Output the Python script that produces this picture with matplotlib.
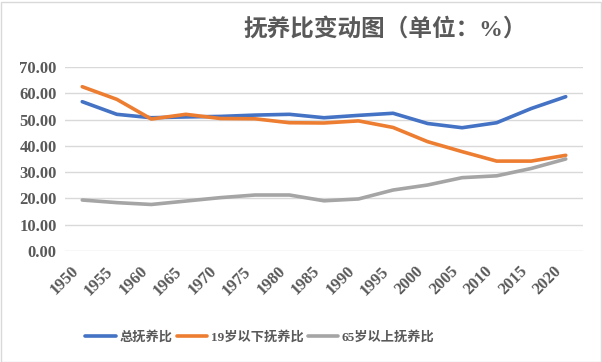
import matplotlib
matplotlib.use('Agg')
import matplotlib.pyplot as plt
import matplotlib.transforms as mtransforms
from matplotlib.patches import Rectangle

plt.rcParams['font.family'] = ['Liberation Serif', 'Noto Sans CJK SC', 'DejaVu Sans']

years = [1950, 1955, 1960, 1965, 1970, 1975, 1980, 1985,
         1990, 1995, 2000, 2005, 2010, 2015, 2020]
total = [56.8, 52.0, 50.7, 51.0, 51.2, 51.7, 52.0, 50.7,
         51.6, 52.4, 48.5, 46.9, 48.8, 54.2, 58.7]
young = [62.5, 57.7, 50.2, 52.0, 50.4, 50.3, 48.8, 48.7,
         49.5, 47.0, 41.6, 37.8, 34.2, 34.2, 36.4]
old = [19.4, 18.4, 17.7, 19.0, 20.3, 21.3, 21.3, 19.1,
       19.8, 23.2, 25.1, 27.9, 28.6, 31.4, 35.0]
names = ['总抚养比', '19岁以下抚养比', '65岁以上抚养比']
colors = ['#4472C4', '#ED7D31', '#A5A5A5']

fig = plt.figure(figsize=(6.02, 3.62), dpi=100)
ax = fig.add_axes([65/602, 1 - 251/362, (583-65)/602, (251-67)/362])

x = list(range(len(years)))
for vals, name, c in zip([total, young, old], names, colors):
    ax.plot(x, vals, color=c, lw=2.6, label=name, solid_capstyle='round')

ax.set_xlim(-0.5, len(years) - 0.5)
ax.set_ylim(0, 70)
ax.set_yticks(range(0, 71, 10))
ax.set_yticklabels([f'{v:.2f}' for v in range(0, 71, 10)])
ax.set_xticks(x)
ax.set_xticklabels([str(y) for y in years], rotation=45, ha='right',
                   rotation_mode='anchor')
ax.grid(axis='y', color='#D9D9D9', lw=1)
ax.set_axisbelow(True)
for s in ax.spines.values():
    s.set_visible(False)
ax.tick_params(length=0, labelsize=12, labelcolor='#595959', pad=6)
for lab in ax.get_xticklabels() + ax.get_yticklabels():
    lab.set_fontweight('bold')

# shift rotated year labels a bit left and down, like excel does
shift = mtransforms.ScaledTranslation(-12/100, -4/100, fig.dpi_scale_trans)
for lab in ax.get_xticklabels():
    lab.set_transform(lab.get_transform() + shift)

fig.text(385/602, 1 - 30/362, '抚养比变动图（单位：%）', ha='center', va='center',
         fontsize=17, fontweight='bold', color='#595959')

leg = fig.legend(loc='center', bbox_to_anchor=(260/602, 1 - 337/362), ncol=3,
                 frameon=False, handlelength=2.3, columnspacing=0.3,
                 handletextpad=0.3,
                 prop={'size': 9.5, 'weight': 'bold'})
for t in leg.get_texts():
    t.set_color('#595959')

fig.patches.append(Rectangle((0.5/602, 0.5/362), 600/602, 360/362,
                             transform=fig.transFigure, fill=False,
                             edgecolor='#D9D9D9', lw=1))

fig.savefig('out.png', dpi=100)
